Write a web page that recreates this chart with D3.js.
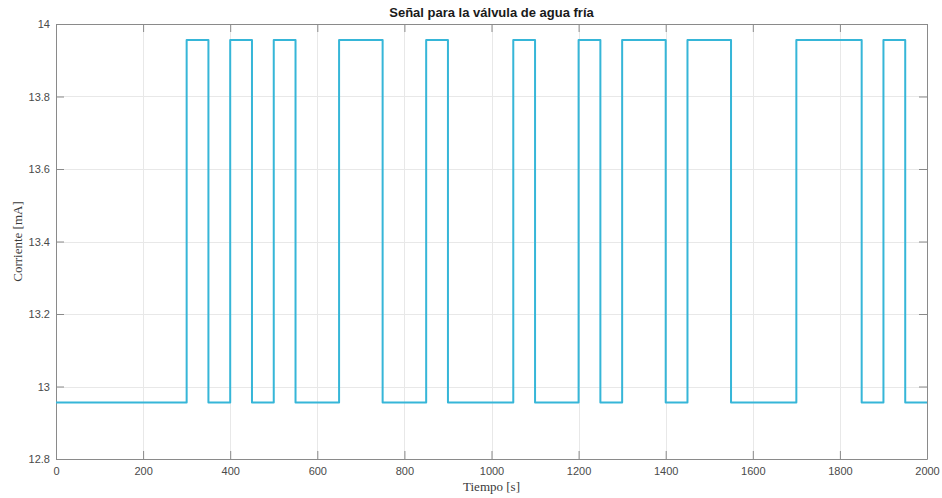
<!DOCTYPE html>
<html>
<head>
<meta charset="utf-8">
<script src="https://cdn.jsdelivr.net/npm/d3@7"></script>
<style>
  html, body { margin: 0; padding: 0; background: #ffffff; }
  svg { display: block; }
</style>
</head>
<body>
<svg id="chart" width="942" height="498"></svg>
<script>
// Instantes de conmutación [s] y corriente enviada a la válvula [mA]
const tiempo = [0, 300, 350, 400, 450, 500, 550, 650, 750, 850, 900, 1050, 1100,
                1200, 1250, 1300, 1400, 1450, 1550, 1700, 1850, 1900, 1950, 2000];
const corriente = [12.956, 13.956, 12.956, 13.956, 12.956, 13.956, 12.956, 13.956,
                   12.956, 13.956, 12.956, 13.956, 12.956, 13.956, 12.956, 13.956,
                   12.956, 13.956, 12.956, 13.956, 12.956, 13.956, 12.956, 12.956];
const xTicks = [0, 200, 400, 600, 800, 1000, 1200, 1400, 1600, 1800, 2000];
const yTicks = [12.8, 13, 13.2, 13.4, 13.6, 13.8, 14];

const svg = d3.select("#chart");
const mLeft = 56, mRight = 927, mTop = 24, mBottom = 459;

const x = d3.scaleLinear().domain([0, 2000]).range([mLeft, mRight]);
const y = d3.scaleLinear().domain([12.8, 14]).range([mBottom, mTop]);

const axisColor = "#8a8a8a";
const gridColor = "#e8e8e8";
const sans = "'Liberation Sans', Arial, Helvetica, sans-serif";
const serif = "'Liberation Serif', 'Times New Roman', serif";

// Cuadrícula
const grid = svg.append("g");
grid.selectAll("line.gx").data(xTicks).join("line")
  .attr("x1", d => Math.round(x(d)) + 0.5).attr("x2", d => Math.round(x(d)) + 0.5)
  .attr("y1", mTop).attr("y2", mBottom)
  .attr("stroke", gridColor).attr("stroke-width", 1);
grid.selectAll("line.gy").data(yTicks).join("line")
  .attr("y1", d => Math.round(y(d)) + 0.5).attr("y2", d => Math.round(y(d)) + 0.5)
  .attr("x1", mLeft).attr("x2", mRight)
  .attr("stroke", gridColor).attr("stroke-width", 1);

// Ejes con marcas hacia dentro, en los cuatro lados
function styleAxis(g) {
  g.select(".domain").attr("stroke", axisColor);
  g.selectAll(".tick line").attr("stroke", axisColor);
  g.selectAll(".tick text").attr("fill", "#4a4a4a")
    .attr("font-family", sans).attr("font-size", 11);
}
const fmt = d => d3.format("~g")(d);

svg.append("g").attr("transform", `translate(0,${mBottom})`)
  .call(d3.axisBottom(x).tickValues(xTicks).tickFormat(fmt).tickSizeInner(-8).tickSizeOuter(0).tickPadding(8))
  .call(styleAxis);
svg.append("g").attr("transform", `translate(0,${mTop})`)
  .call(d3.axisTop(x).tickValues(xTicks).tickFormat("").tickSizeInner(-8).tickSizeOuter(0))
  .call(styleAxis);
svg.append("g").attr("transform", `translate(${mLeft},0)`)
  .call(d3.axisLeft(y).tickValues(yTicks).tickFormat(fmt).tickSizeInner(-8).tickSizeOuter(0).tickPadding(6))
  .call(styleAxis);
svg.append("g").attr("transform", `translate(${mRight},0)`)
  .call(d3.axisRight(y).tickValues(yTicks).tickFormat("").tickSizeInner(-8).tickSizeOuter(0))
  .call(styleAxis);

// Señal escalonada
const datos = tiempo.map((t, i) => ({ t, v: corriente[i] }));
const linea = d3.line()
  .x(d => x(d.t)).y(d => y(d.v))
  .curve(d3.curveStepAfter);
svg.append("path")
  .datum(datos)
  .attr("d", linea)
  .attr("fill", "none")
  .attr("stroke", "#36b6d8")
  .attr("stroke-width", 2)
  .attr("stroke-linejoin", "round");

// Títulos
svg.append("text")
  .attr("x", (mLeft + mRight) / 2).attr("y", 17)
  .attr("text-anchor", "middle")
  .attr("font-family", sans).attr("font-size", 13).attr("font-weight", "bold")
  .attr("fill", "#1a1a1a")
  .text("Señal para la válvula de agua fría");

svg.append("text")
  .attr("x", (mLeft + mRight) / 2).attr("y", 491)
  .attr("text-anchor", "middle")
  .attr("font-family", serif).attr("font-size", 13)
  .attr("fill", "#3a3a3a")
  .text("Tiempo [s]");

svg.append("text")
  .attr("transform", `translate(22,${(mTop + mBottom) / 2}) rotate(-90)`)
  .attr("text-anchor", "middle")
  .attr("font-family", serif).attr("font-size", 13)
  .attr("fill", "#3a3a3a")
  .text("Corriente [mA]");
</script>
</body>
</html>
